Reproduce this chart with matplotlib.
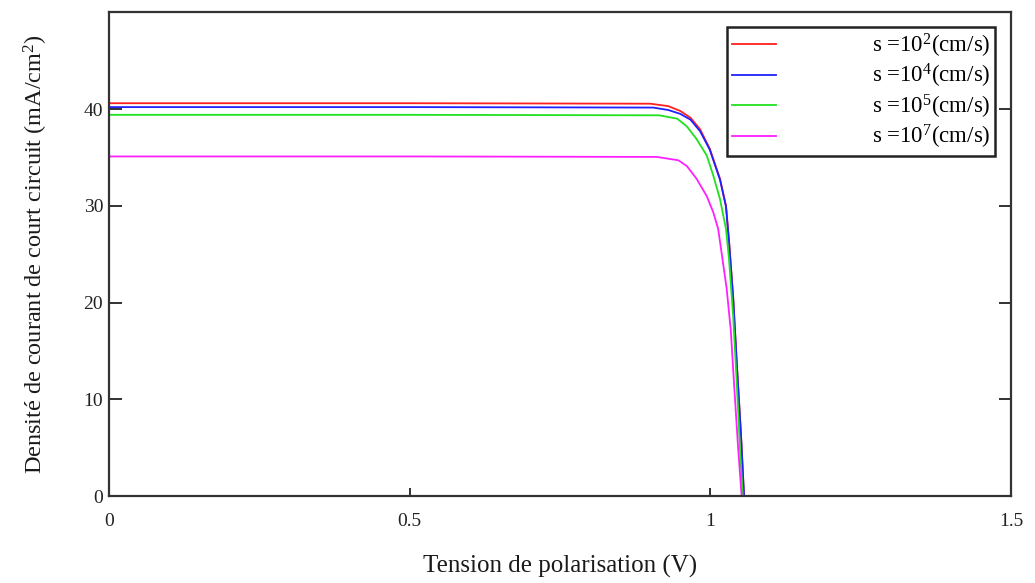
import numpy as np
import matplotlib
matplotlib.use("Agg")
import matplotlib.pyplot as plt

plt.rcParams['font.family'] = ['Liberation Serif', 'DejaVu Serif']
plt.rcParams['mathtext.fontset'] = 'custom'
plt.rcParams['mathtext.rm'] = 'Liberation Serif'
plt.rcParams['mathtext.it'] = 'Liberation Serif:italic'

# J-V curves (V in volts, J in mA/cm2)
v_red = [0.0, 0.50, 0.900, 0.930, 0.950, 0.967, 0.983, 0.999, 1.016, 1.026, 1.031, 1.038, 1.044, 1.051, 1.056]
j_red = [40.6, 40.6, 40.55, 40.3, 39.8, 39.1, 37.9, 35.9, 32.8, 30.0, 26.4, 20.5, 13.7, 6.3, 0.0]

v_blue = [0.0, 0.50, 0.905, 0.930, 0.950, 0.967, 0.983, 0.999, 1.016, 1.026, 1.031, 1.038, 1.044, 1.051, 1.056]
j_blue = [40.2, 40.2, 40.15, 39.9, 39.5, 38.9, 37.7, 35.8, 32.7, 29.9, 26.3, 20.4, 13.6, 6.2, 0.0]

v_green = [0.0, 0.50, 0.915, 0.945, 0.961, 0.977, 0.994, 1.005, 1.016, 1.026, 1.031, 1.038, 1.044, 1.050, 1.054]
j_green = [39.4, 39.4, 39.35, 39.0, 38.2, 36.9, 35.2, 33.1, 30.7, 27.6, 24.5, 18.5, 11.5, 4.0, 0.0]

v_mag = [0.0, 0.50, 0.911, 0.947, 0.961, 0.977, 0.994, 1.005, 1.013, 1.019, 1.027, 1.034, 1.039, 1.046, 1.052]
j_mag = [35.1, 35.1, 35.05, 34.7, 34.1, 32.8, 31.0, 29.3, 27.6, 25.0, 21.5, 17.1, 12.0, 5.1, 0.0]

labels = ['s =10$^{2}$(cm/s)', 's =10$^{4}$(cm/s)', 's =10$^{5}$(cm/s)', 's =10$^{7}$(cm/s)']
colors = ['#ff2020', '#2020ff', '#20e020', '#ff20ff']

fig = plt.figure(figsize=(10.35, 5.83), dpi=100)
ax = fig.add_axes([0.105, 0.149, 0.872, 0.830])

ax.plot(v_red, j_red, color=colors[0], lw=1.3, label=labels[0])
ax.plot(v_blue, j_blue, color=colors[1], lw=1.3, label=labels[1])
ax.plot(v_green, j_green, color=colors[2], lw=1.3, label=labels[2])
ax.plot(v_mag, j_mag, color=colors[3], lw=1.3, label=labels[3])

ax.set_xlim(0, 1.5)
ax.set_ylim(0, 50)
ax.set_xticks([0, 0.5, 1, 1.5])
ax.set_xticklabels(['0', '0.5', '1', '1.5'])
ax.set_yticks([0, 10, 20, 30, 40])

for s in ax.spines.values():
    s.set_color('#333333')
    s.set_linewidth(1.6)

ax.tick_params(axis='y', direction='in', length=9, width=1.3, right=True,
               labelsize=14, colors='#222222', pad=4)
ax.tick_params(axis='x', direction='in', length=6, width=1.3,
               labelsize=14, colors='#222222', pad=12)

ax.set_xlabel('Tension de polarisation (V)', fontsize=18, labelpad=18, color='#1a1a1a')
ax.set_ylabel('Densité de courant de court circuit (mA/cm$^{2}$)', fontsize=17.5,
              labelpad=24, color='#1a1a1a')

leg = ax.legend(loc='upper right', bbox_to_anchor=(0.982, 0.969), fontsize=16.5,
                fancybox=False, edgecolor='#222222', framealpha=1,
                handlelength=1.9, borderaxespad=0, labelspacing=0.1,
                handletextpad=4.2, borderpad=0.2)
leg.get_frame().set_linewidth(1.8)

fig.savefig('out.png', dpi=100)
